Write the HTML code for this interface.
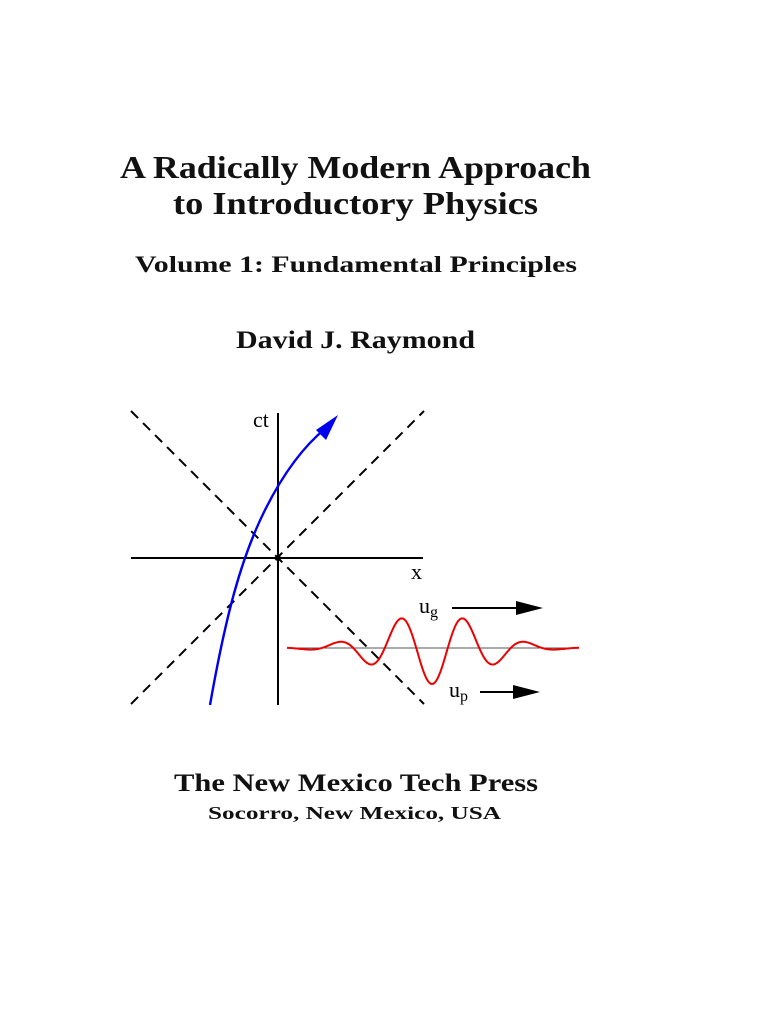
<!DOCTYPE html>
<html><head><meta charset="utf-8"><style>html,body{margin:0;padding:0;background:#fff}svg{display:block}</style></head>
<body>
<svg width="768" height="1024" viewBox="0 0 768 1024" xmlns="http://www.w3.org/2000/svg" font-family="Liberation Serif, serif">
<g font-weight="bold" fill="#111">
<text x="120" y="178" font-size="32" textLength="471" lengthAdjust="spacingAndGlyphs">A Radically Modern Approach</text>
<text x="173" y="214" font-size="32" textLength="365" lengthAdjust="spacingAndGlyphs">to Introductory Physics</text>
<text x="135" y="272" font-size="23" textLength="442" lengthAdjust="spacingAndGlyphs">Volume 1: Fundamental Principles</text>
<text x="236" y="348" font-size="25" textLength="239" lengthAdjust="spacingAndGlyphs">David J. Raymond</text>
<text x="174" y="791" font-size="25" textLength="364" lengthAdjust="spacingAndGlyphs">The New Mexico Tech Press</text>
<text x="208" y="819" font-size="18" textLength="293" lengthAdjust="spacingAndGlyphs">Socorro, New Mexico, USA</text>
</g>
<g stroke="#000" stroke-width="2" fill="none">
<line x1="131" y1="411" x2="424" y2="704" stroke-dasharray="10,7"/>
<line x1="131" y1="704" x2="424" y2="411" stroke-dasharray="10,7"/>
<line x1="278" y1="413" x2="278" y2="705"/>
<line x1="131" y1="558" x2="423" y2="558"/>
<line x1="287" y1="648" x2="579" y2="648" stroke-width="1" stroke="#555"/>
<line x1="452" y1="608" x2="520" y2="608"/>
<line x1="480" y1="692" x2="516" y2="692"/>
</g>
<circle cx="278" cy="558" r="3" fill="#000"/>
<polygon points="543,608 516,601 516,615" fill="#000"/>
<polygon points="540,692 513,685 513,699" fill="#000"/>
<path d="M210,705 C225,620 240,560 265,510 C285,470 305,445 326,428" stroke="#0000ee" stroke-width="2.4" fill="none"/>
<polygon points="338,415 316,430 326,440" fill="#0000ee"/>
<path id="w" stroke="#e00" stroke-width="2" fill="none" d=""/>
<g fill="#000" font-size="22">
<text x="253" y="427">ct</text>
<text x="411" y="579">x</text>
<text x="419" y="613">u<tspan font-size="16" dy="4">g</tspan></text>
<text x="449" y="697">u<tspan font-size="16" dy="4">p</tspan></text>
</g>
<script>
var d="";for(var x=287;x<=579;x+=1){var t=x-432;var y=648+36*Math.cos(2*Math.PI*t/63)*Math.exp(-(t/70)*(t/70));d+=(x==287?"M":"L")+x+","+y.toFixed(2);}
document.getElementById("w").setAttribute("d",d);
</script>
</svg>
</body></html>
